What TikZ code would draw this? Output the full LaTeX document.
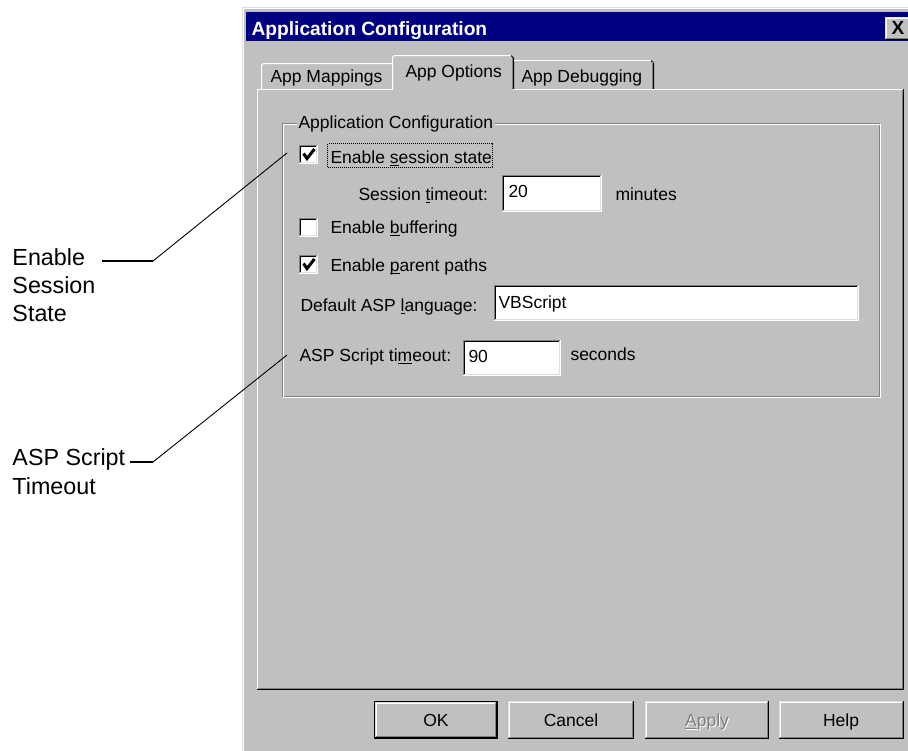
\documentclass[tikz,border=0pt]{standalone}
\usepackage{fontspec}
\setmainfont{Liberation Sans}
\definecolor{wgray}{HTML}{C0C0C0}
\definecolor{wdark}{HTML}{808080}
\definecolor{wlight}{HTML}{DFDFDF}
\definecolor{wnavy}{HTML}{000080}
\newcommand\dlgfont{\fontsize{17.5}{20}\selectfont}
\newcommand\mnem[1]{\setbox0\hbox{#1}\rlap{\rule[-2.6pt]{\wd0}{1.1pt}}#1}
% sunken 3D field: x1 y1 x2 y2
\newcommand\wsunken[4]{%
  \fill[white] (#1,#2) rectangle (#3,#4);
  \draw[wdark] (#1+0.5,#4) -- (#1+0.5,#2+0.5) -- (#3,#2+0.5);
  \draw[black] (#1+1.5,#4-1) -- (#1+1.5,#2+1.5) -- (#3-1,#2+1.5);
  \draw[white] (#1,#4-0.5) -- (#3-0.5,#4-0.5) -- (#3-0.5,#2);
  \draw[wlight] (#1+1,#4-1.5) -- (#3-1.5,#4-1.5) -- (#3-1.5,#2+1);
}
% raised 3D button: x1 y1 x2 y2
\newcommand\wraised[4]{%
  \fill[wgray] (#1,#2) rectangle (#3,#4);
  \draw[wlight] (#1+0.5,#4-1) -- (#1+0.5,#2+0.5) -- (#3-1,#2+0.5);
  \draw[white] (#1+1.5,#4-2) -- (#1+1.5,#2+1.5) -- (#3-2,#2+1.5);
  \draw[black] (#1,#4-0.5) -- (#3-0.5,#4-0.5) -- (#3-0.5,#2);
  \draw[wdark] (#1+1,#4-1.5) -- (#3-1.5,#4-1.5) -- (#3-1.5,#2+1);
}
\begin{document}
\begin{tikzpicture}[x=1pt,y=-1pt,line width=1pt,
  dlg/.style={font=\dlgfont,inner sep=0pt,anchor=base west,text=black},
  dlgc/.style={font=\dlgfont,inner sep=0pt,anchor=base,text=black},
  side/.style={font=\fontsize{23.3}{28}\selectfont,inner sep=0pt,anchor=base west},
  leadthick/.style={line width=1.7pt,black},
  leadthin/.style={line width=0.9pt,black},
  tick/.style={line width=3pt,line cap=butt,line join=miter}]
\useasboundingbox (0,0) rectangle (908,750);
\clip (0,0) rectangle (908,750);
\fill[white] (0,0) rectangle (908,750);

% ---- window frame ----
\fill[wgray] (242,7) rectangle (912,754);
\draw[wlight] (242.5,754) -- (242.5,7.5) -- (912,7.5);
\draw[white] (243.5,754) -- (243.5,8.5) -- (912,8.5);

% ---- title bar ----
\fill[wnavy] (246,12) rectangle (912,41);
\node[font=\fontsize{19.2}{22}\selectfont\bfseries,text=white,inner sep=0pt,anchor=base west]
  (title) at (251,35) {Application Configuration};
\wraised{885}{17}{913}{40}
\node[font=\fontsize{19}{22}\selectfont\bfseries,inner sep=0pt,anchor=base] (closex) at (898,34) {X};

% ---- tabs ----
\draw[white] (261.5,89) -- (261.5,65) -- (263.5,63.5) -- (392,63.5);
\node[dlg] (tab1) at (270,82) {App Mappings};
\fill[wgray] (392,55) rectangle (513,91);
\draw[white] (392.5,90) -- (392.5,57.5) -- (394.5,55.5) -- (511,55.5);
\draw[black] (511,55.5) -- (513.5,58) -- (513.5,89);
\draw[wdark] (512.5,58) -- (512.5,89);
\node[dlg] (tab2) at (405,77) {App Options};
\draw[white] (514,60.5) -- (651,60.5);
\draw[black] (651,60.5) -- (653.5,63) -- (653.5,89);
\draw[wdark] (652.5,62) -- (652.5,89);
\node[dlg] (tab3) at (521,82) {App Debugging};

% ---- tab panel ----
\draw[white] (257.5,689) -- (257.5,89.5) -- (392,89.5);
\draw[white] (513,89.5) -- (903,89.5);
\draw[black] (257,689.5) -- (903.5,689.5) -- (903.5,89);
\draw[wdark] (258,688.5) -- (902.5,688.5) -- (902.5,90);

% ---- group box ----
\draw[wdark] (282.5,123.5) rectangle (879.5,396.5);
\draw[white] (283.5,124.5) rectangle (880.5,397.5);
\node[dlg,fill=wgray,inner xsep=2pt] (grp) at (296,128) {Application Configuration};

% ---- checkboxes ----
\wsunken{299}{145}{318}{164}
\draw[tick] (303.5,153.5) -- (307,158.5) -- (314.5,149);
\node[dlg] (cb1) at (330,163) {Enable \mnem{s}ession state};
\draw[line width=0.9pt,dash pattern=on 1pt off 1pt] (327.5,143.5) rectangle (492.5,167.5);

\node[dlg] (sto) at (358,200) {Session \mnem{t}imeout:};
\wsunken{502}{175}{602}{212}
\node[dlg] (v20) at (508,197) {20};
\node[dlg] (minu) at (615,200) {minutes};

\wsunken{299}{218}{318}{237}
\node[dlg] (cb2) at (330,233) {Enable \mnem{b}uffering};

\wsunken{299}{255}{318}{274}
\draw[tick] (303.5,263.5) -- (307,268.5) -- (314.5,259);
\node[dlg] (cb3) at (330,271) {Enable \mnem{p}arent paths};

\node[dlg] (dal) at (300,311) {Default ASP \mnem{l}anguage:};
\wsunken{494}{285}{859}{321}
\node[dlg] (vbs) at (498,308) {VBScript};

\node[dlg] (ast) at (299,361) {ASP Script ti\mnem{m}eout:};
\wsunken{463}{340}{561}{376}
\node[dlg] (v90) at (468,362) {90};
\node[dlg] (secs) at (570,360) {seconds};

% ---- buttons ----
\fill[black] (374,701) rectangle (498,739);
\wraised{375}{702}{497}{738}
\node[dlgc] (ok) at (436,726) {OK};
\wraised{508}{701}{634}{739}
\node[dlgc] (cancel) at (571,726) {Cancel};
\wraised{645}{701}{769}{739}
\node[dlgc,text=white] (applys) at (708,727) {\mnem{A}pply};
\node[dlgc,text=wdark] (apply) at (707,726) {\mnem{A}pply};
\wraised{779}{701}{904}{739}
\node[dlgc] (help) at (841,726) {Help};

% ---- side labels ----
\node[side] (l1a) at (12,265) {Enable};
\node[side] (l1b) at (12,293) {Session};
\node[side] (l1c) at (12,321) {State};
\node[side] (l2a) at (12,465) {ASP Script};
\node[side] (l2b) at (12,494) {Timeout};

% ---- leaders ----
\coordinate (c1s) at (102,261);
\coordinate (c1k) at (153,261);
\coordinate (c1e) at (287,153);
\draw[leadthick] (c1s) -- (c1k);
\draw[leadthin] (c1k) -- (c1e);
\coordinate (c2s) at (130,462);
\coordinate (c2k) at (153,462);
\coordinate (c2e) at (287,355);
\draw[leadthick] (c2s) -- (c2k);
\draw[leadthin] (c2k) -- (c2e);
\end{tikzpicture}
\end{document}
